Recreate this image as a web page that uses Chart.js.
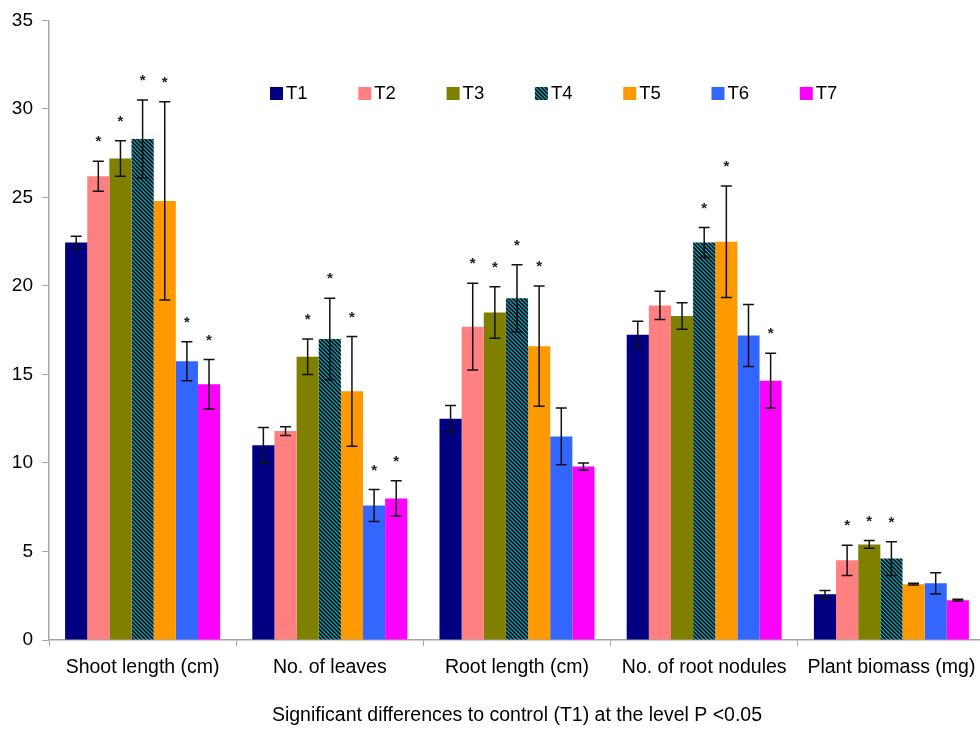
<!DOCTYPE html>
<html>
<head>
<meta charset="utf-8">
<title>Treatment effects</title>
<script src="https://cdn.jsdelivr.net/npm/chart.js@4.4.0/dist/chart.umd.min.js"></script>
<style>
  html, body { margin: 0; padding: 0; background: #fff; overflow: hidden; }
  #wrap { width: 980px; height: 731px; overflow: hidden; }
</style>
</head>
<body>
<div id="wrap"><canvas id="chart" width="986" height="731"></canvas></div>
<script>
// Data
const categories = ['Shoot length (cm)', 'No. of leaves', 'Root length (cm)', 'No. of root nodules', 'Plant biomass (mg)'];
const treatments = ['T1', 'T2', 'T3', 'T4', 'T5', 'T6', 'T7'];
const yMin = 0, yMax = 35, yStep = 5;

const t1 = [22.45, 11.0, 12.5, 17.25, 2.58];
const t2 = [26.2, 11.8, 17.7, 18.9, 4.5];
const t3 = [27.2, 16.0, 18.5, 18.3, 5.4];
const t4 = [28.3, 17.0, 19.3, 22.45, 4.6];
const t5 = [24.8, 14.05, 16.6, 22.5, 3.15];
const t6 = [15.75, 7.6, 11.5, 17.2, 3.2];
const t7 = [14.45, 8.0, 9.8, 14.65, 2.25];

// error bar half lengths
const t1Err = [0.35, 1.0, 0.75, 0.75, 0.22];
const t2Err = [0.85, 0.25, 2.45, 0.8, 0.85];
const t3Err = [1.0, 1.0, 1.45, 0.75, 0.22];
const t4Err = [2.2, 2.3, 1.9, 0.85, 0.95];
const t5Err = [5.6, 3.1, 3.4, 3.15, 0.05];
const t6Err = [1.1, 0.9, 1.6, 1.75, 0.6];
const t7Err = [1.4, 1.0, 0.2, 1.55, 0.05];

// significant vs control (star)
const t1Sig = [0, 0, 0, 0, 0];
const t2Sig = [1, 0, 1, 0, 1];
const t3Sig = [1, 1, 1, 0, 1];
const t4Sig = [1, 1, 1, 1, 1];
const t5Sig = [1, 1, 1, 1, 0];
const t6Sig = [1, 1, 0, 0, 0];
const t7Sig = [1, 1, 0, 1, 0];

const FONT = '"Liberation Sans", Arial, sans-serif';
const axisGray = '#a6a6a6';

function stripePattern() {
    const c = document.createElement('canvas');
    c.width = 4; c.height = 4;
    const g = c.getContext('2d');
    g.fillStyle = '#000';
    g.fillRect(0, 0, 4, 4);
    g.strokeStyle = '#1a9cb4';
    g.lineWidth = 1.3;
    g.beginPath();
    g.moveTo(-1, -1); g.lineTo(5, 5);
    g.moveTo(-1, 3); g.lineTo(1, 5);
    g.moveTo(3, -1); g.lineTo(5, 1);
    g.stroke();
    return g.createPattern(c, 'repeat');
}

const ctx = document.getElementById('chart').getContext('2d');
const colors = ['#000080', '#ff8080', '#808000', stripePattern(), '#ff9900', '#3366ff', '#ff00ff'];
const values = [t1, t2, t3, t4, t5, t6, t7];
const errors = [t1Err, t2Err, t3Err, t4Err, t5Err, t6Err, t7Err];
const sig = [t1Sig, t2Sig, t3Sig, t4Sig, t5Sig, t6Sig, t7Sig];

const datasets = treatments.map((name, i) => ({
    label: name,
    data: values[i],
    errors: errors[i],
    signif: sig[i],
    backgroundColor: colors[i],
    borderWidth: 0,
    categoryPercentage: 0.828,
    barPercentage: 1.0
}));

// error bars and stars on top of bars
const errorBars = {
    id: 'errorBars',
    afterDatasetsDraw(chart) {
        const c = chart.ctx;
        const y = chart.scales.y;
        c.save();
        chart.data.datasets.forEach((ds, i) => {
            const meta = chart.getDatasetMeta(i);
            meta.data.forEach((bar, j) => {
                const v = ds.data[j], e = ds.errors[j];
                const top = y.getPixelForValue(v + e);
                const bot = y.getPixelForValue(v - e);
                c.strokeStyle = '#111';
                c.lineWidth = 1.5;
                c.beginPath();
                c.moveTo(bar.x, top); c.lineTo(bar.x, bot);
                c.moveTo(bar.x - 5.5, top); c.lineTo(bar.x + 5.5, top);
                c.moveTo(bar.x - 5.5, bot); c.lineTo(bar.x + 5.5, bot);
                c.stroke();
                if (ds.signif[j]) {
                    c.fillStyle = '#222';
                    c.font = 'bold 15px ' + FONT;
                    c.textAlign = 'center';
                    c.textBaseline = 'middle';
                    c.fillText('*', bar.x, top - 19);
                }
            });
        });
        c.restore();
    }
};

// legend row sitting inside the plot area
const legendRow = {
    id: 'legendRow',
    afterDraw(chart) {
        const c = chart.ctx;
        c.save();
        c.font = '18.5px ' + FONT;
        c.textBaseline = 'middle';
        c.textAlign = 'left';
        chart.data.datasets.forEach((ds, i) => {
            const x = 270 + i * 88.3;
            c.fillStyle = ds.backgroundColor;
            c.fillRect(x, 87, 13, 13);
            c.fillStyle = '#000';
            c.fillText(ds.label, x + 16, 94);
        });
        c.restore();
    }
};

new Chart(ctx, {
    type: 'bar',
    data: { labels: categories, datasets: datasets },
    plugins: [errorBars, legendRow],
    options: {
        responsive: false,
        animation: false,
        devicePixelRatio: 1,
        layout: { padding: { top: 17, right: 1, left: 0, bottom: 0 } },
        plugins: {
            legend: { display: false },
            tooltip: { enabled: false }
        },
        scales: {
            x: {
                offset: true,
                grid: { offset: true, drawOnChartArea: false, tickLength: 6, color: axisGray },
                border: { color: axisGray, width: 1.5 },
                ticks: { color: '#000', font: { family: FONT, size: 19.5 }, padding: 10, maxRotation: 0, autoSkip: false },
                title: {
                    display: true,
                    text: 'Significant differences to control (T1) at the level P <0.05',
                    color: '#000',
                    font: { family: FONT, size: 19.5 },
                    padding: { top: 4, bottom: 4 }
                },
                afterFit(s) { s.height = 91; }
            },
            y: {
                min: yMin,
                max: yMax,
                ticks: { stepSize: yStep, color: '#000', font: { family: FONT, size: 19 }, padding: 9 },
                grid: { drawOnChartArea: false, tickLength: 7, color: axisGray },
                border: { color: axisGray, width: 1.5 },
                afterFit(s) { s.width = 49; }
            }
        }
    }
});
</script>
</body>
</html>
